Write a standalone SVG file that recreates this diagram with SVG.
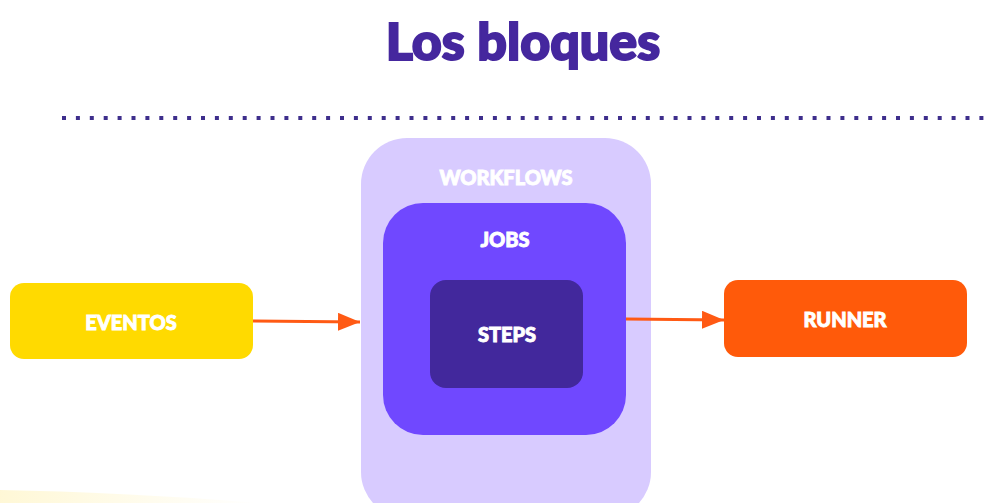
<svg xmlns="http://www.w3.org/2000/svg" width="996" height="503" viewBox="0 0 996 503">
<defs>
<style>
.lbl{font-family:"Lato","Open Sans","Liberation Sans",sans-serif;font-weight:900;fill:#ffffff;stroke:#ffffff;stroke-width:0.9;text-anchor:middle;font-size:20px}
.conn{stroke:#FF5A14;stroke-width:3;fill:none}
</style>
<marker id="head" viewBox="0 0 22 18" refX="22" refY="9" markerWidth="22" markerHeight="18" markerUnits="userSpaceOnUse" orient="auto">
<path d="M0,0 L22,9 L0,18 Z" fill="#FF5A14"/>
</marker>
<linearGradient id="glow" x1="0" y1="0" x2="1" y2="0">
<stop offset="0" stop-color="#FFF6CC" stop-opacity="0.8"/>
<stop offset="1" stop-color="#FFF6CC" stop-opacity="0"/>
</linearGradient>
</defs>
<rect width="996" height="503" fill="#ffffff"/>
<path d="M0,490 Q120,492 260,503 L0,503 Z" fill="url(#glow)"/>
<text x="523" y="60" font-family="Lato,'Open Sans','Liberation Sans',sans-serif" font-weight="900" font-size="52" fill="#45279E" stroke="#45279E" stroke-width="2" text-anchor="middle">Los bloques</text>
<line x1="62" y1="118" x2="992" y2="118" stroke="#3E2E8C" stroke-width="4" stroke-dasharray="4 9.9"/>
<g id="workflows">
<rect x="361" y="138" width="290" height="380" rx="46" fill="#D8CBFF"/>
<text class="lbl" x="506" y="185">WORKFLOWS</text>
</g>
<g id="jobs">
<rect x="383" y="203" width="243" height="232" rx="40" fill="#7048FF"/>
<text class="lbl" x="505" y="247">JOBS</text>
</g>
<g id="steps">
<rect x="430" y="280" width="153" height="108" rx="16" fill="#42289C"/>
<text class="lbl" x="507" y="342">STEPS</text>
</g>
<g id="eventos">
<rect x="10" y="283" width="243" height="76" rx="14" fill="#FFDA00"/>
<text class="lbl" x="131" y="330">EVENTOS</text>
</g>
<g id="runner">
<rect x="724" y="280" width="243" height="77" rx="14" fill="#FF5A0A"/>
<text class="lbl" x="845" y="327">RUNNER</text>
</g>
<g id="connectors">
<line class="conn" x1="253" y1="321" x2="360" y2="322" marker-end="url(#head)"/>
<line class="conn" x1="626" y1="319" x2="724" y2="320" marker-end="url(#head)"/>
</g>
</svg>
